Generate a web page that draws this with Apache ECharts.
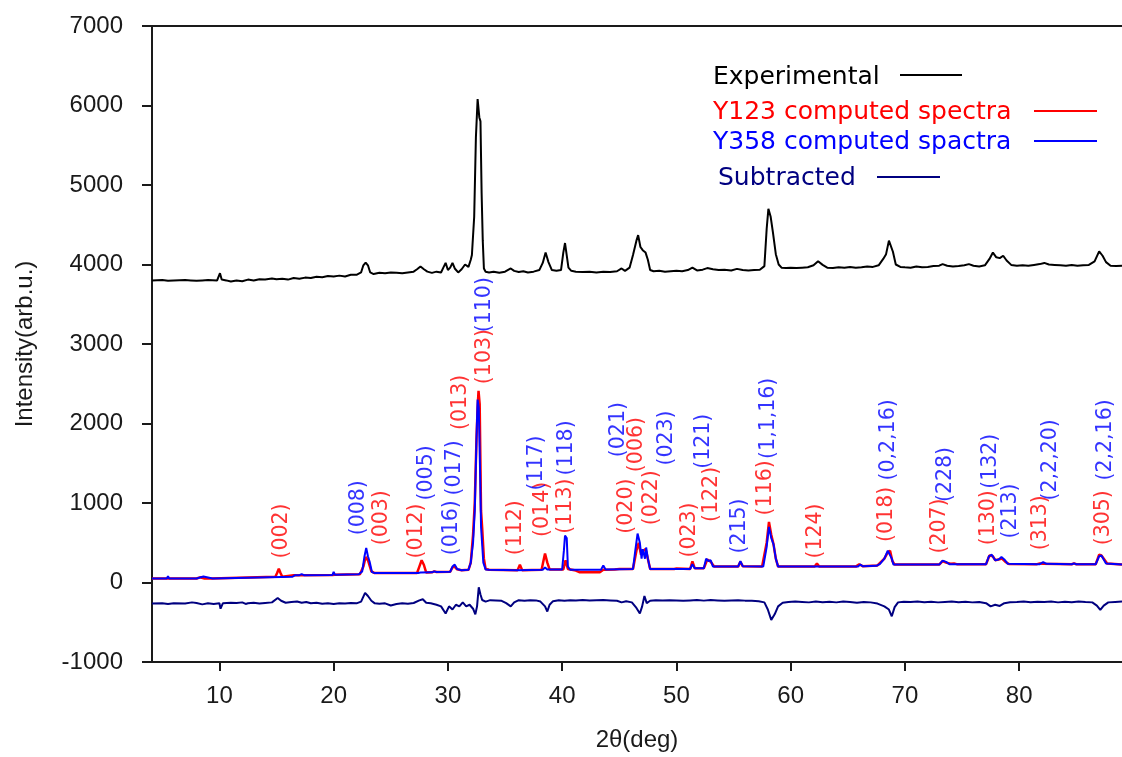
<!DOCTYPE html>
<html>
<head>
<meta charset="utf-8">
<script src="https://cdn.jsdelivr.net/npm/echarts@6/dist/echarts.min.js"></script>
<style>html,body{margin:0;padding:0;background:#fff}#c{width:1122px;height:757px}</style>
</head>
<body>
<div id="c"></div>
<script>
// ---- data ----
const xTicks = [10, 20, 30, 40, 50, 60, 70, 80];
const expData = [[4.1,3800],[5,3805],[5.5,3795],[6,3800],[7,3805],[7.5,3800],[8,3795],[8.5,3800],[9,3805],[9.8,3800],[10.05,3890],[10.2,3810],[10.6,3800],[11,3785],[11.5,3800],[12,3790],[12.5,3810],[13,3800],[13.5,3815],[14,3810],[14.6,3825],[15,3815],[15.5,3820],[16,3810],[16.5,3830],[17,3820],[17.5,3835],[18,3830],[18.5,3845],[19,3840],[19.5,3855],[20,3850],[20.5,3860],[21,3850],[21.5,3870],[22,3870],[22.4,3900],[22.6,3990],[22.8,4025],[23.0,3990],[23.2,3900],[23.5,3880],[24,3895],[24.5,3890],[25,3900],[25.5,3895],[26,3890],[26.5,3900],[27,3910],[27.3,3940],[27.6,3975],[27.9,3940],[28.2,3910],[28.6,3895],[29,3910],[29.4,3900],[29.6,3960],[29.8,4020],[30.0,3930],[30.2,3960],[30.4,4020],[30.6,3950],[30.9,3900],[31.2,3940],[31.5,4000],[31.8,3970],[32.0,4060],[32.1,4120],[32.3,4600],[32.45,5600],[32.6,6080],[32.7,6080],[32.75,5850],[32.85,5800],[32.95,4900],[33.05,4300],[33.15,3950],[33.3,3910],[33.6,3900],[34,3910],[34.5,3895],[35,3910],[35.5,3950],[35.8,3920],[36.2,3905],[36.6,3915],[37,3900],[37.5,3910],[38,3930],[38.3,4020],[38.55,4150],[38.8,4030],[39.1,3930],[39.5,3920],[39.9,3930],[40.1,4150],[40.25,4270],[40.4,4250],[40.55,3960],[40.8,3920],[41.2,3910],[41.8,3905],[42.4,3910],[43,3900],[43.6,3910],[44.2,3905],[44.8,3915],[45.2,3950],[45.5,3920],[45.9,3960],[46.2,4120],[46.5,4300],[46.65,4370],[46.85,4220],[47.05,4180],[47.3,4150],[47.5,4060],[47.7,3930],[48,3915],[48.5,3920],[49,3910],[49.5,3915],[50,3920],[50.5,3915],[51,3930],[51.4,3960],[51.8,3925],[52.3,3935],[52.7,3955],[53.2,3940],[53.7,3930],[54.2,3935],[54.8,3925],[55.3,3945],[55.8,3930],[56.3,3925],[56.8,3930],[57.3,3935],[57.7,3980],[57.9,4450],[58.05,4700],[58.25,4600],[58.45,4400],[58.7,4130],[58.95,4000],[59.2,3960],[59.6,3955],[60,3960],[60.5,3955],[61,3960],[61.5,3965],[62,3990],[62.4,4040],[62.8,3995],[63.2,3960],[63.7,3955],[64.2,3965],[64.7,3960],[65.2,3970],[65.7,3960],[66.2,3965],[66.7,3975],[67.2,3970],[67.7,3990],[68.1,4070],[68.35,4130],[68.6,4300],[68.75,4310],[68.95,4160],[69.2,4000],[69.6,3970],[70,3965],[70.5,3960],[71,3975],[71.5,3965],[72,3970],[72.5,3980],[73,3985],[73.3,4005],[73.7,3985],[74.2,3975],[74.7,3980],[75.2,3990],[75.6,4005],[76,3985],[76.5,3975],[77,3990],[77.4,4070],[77.7,4150],[78.0,4090],[78.3,4080],[78.6,4110],[78.9,4050],[79.3,3995],[79.8,3985],[80.3,3990],[80.8,3985],[81.3,3995],[81.8,4005],[82.2,4020],[82.6,4000],[83.1,3995],[83.6,3990],[84.1,3985],[84.6,3995],[85.1,3985],[85.6,3990],[86.1,3995],[86.6,4040],[87.0,4165],[87.3,4110],[87.6,4030],[88,3985],[88.5,3980],[89,3985]];
const y123Data = [[4.1,50],[5.5,50],[5.6,70],[5.7,50],[8.0,50],[8.3,65],[8.7,50],[9.3,50],[9.4,70],[14.9,72],[15.05,120],[15.2,175],[15.35,120],[15.5,72],[16.5,90],[17,92],[19.9,95],[20.0,120],[20.1,98],[22.3,105],[22.6,200],[22.8,320],[23.0,280],[23.15,255],[23.3,140],[23.6,118],[27.3,120],[27.5,200],[27.7,280],[27.9,220],[28.1,125],[28.6,128],[28.8,140],[29,132],[30.2,135],[30.4,190],[30.6,200],[30.8,165],[31.2,155],[31.8,160],[32.0,250],[32.2,600],[32.35,1000],[32.5,1800],[32.6,2200],[32.68,2410],[32.78,2245],[32.9,900],[33.0,680],[33.15,300],[33.3,170],[33.6,160],[36.1,155],[36.3,225],[36.5,155],[38.2,160],[38.4,300],[38.5,364],[38.7,250],[38.9,165],[40.1,165],[40.3,280],[40.5,170],[41.2,150],[41.5,130],[43.3,130],[43.6,160],[44.6,165],[45.0,170],[46.2,170],[46.5,400],[46.7,500],[46.9,350],[47.1,400],[47.3,420],[47.5,300],[47.7,170],[49.8,170],[50.0,175],[51.2,170],[51.4,267],[51.6,180],[52.4,180],[52.7,290],[53.0,260],[53.3,200],[55.4,200],[55.6,260],[55.8,205],[57.5,200],[57.9,500],[58.1,761],[58.3,600],[58.5,480],[58.7,300],[58.9,200],[62.1,200],[62.3,238],[62.5,200],[65.7,200],[66.0,230],[66.3,205],[67.6,215],[68.2,300],[68.5,380],[68.7,400],[68.9,270],[69.1,225],[73.0,225],[73.3,270],[73.6,250],[74.0,235],[74.3,240],[74.6,228],[77.1,230],[77.4,340],[77.7,330],[77.9,280],[78.2,290],[78.5,300],[78.8,260],[79.1,232],[81.5,228],[81.8,240],[82.1,235],[84.6,230],[84.8,240],[85.0,230],[86.7,230],[87.0,350],[87.2,340],[87.5,280],[87.7,240],[89,225]];
const y358Data = [[4.1,50],[5.4,50],[5.5,80],[5.6,50],[8.0,50],[8.1,75],[8.6,75],[8.7,50],[9.4,50],[9.5,70],[16.4,72],[16.6,90],[17.0,92],[17.2,105],[17.4,92],[19.9,95],[20.0,135],[20.1,98],[22.2,105],[22.5,140],[22.7,330],[22.85,435],[23.0,330],[23.15,260],[23.35,130],[23.6,118],[27.4,120],[27.6,125],[28.6,128],[28.8,140],[29,132],[30.2,135],[30.4,200],[30.6,225],[30.8,170],[31.2,155],[31.8,160],[32.0,250],[32.2,500],[32.35,900],[32.5,1800],[32.6,2300],[32.7,2200],[32.8,1500],[32.9,700],[33.1,250],[33.3,165],[33.6,160],[36,155],[38.3,160],[38.5,190],[38.7,165],[40.0,165],[40.15,400],[40.25,590],[40.4,560],[40.5,200],[40.7,160],[43.4,160],[43.6,215],[43.8,165],[46.2,170],[46.4,400],[46.6,615],[46.8,500],[46.95,300],[47.05,420],[47.15,430],[47.25,300],[47.35,440],[47.5,300],[47.7,170],[51.2,170],[51.4,230],[51.6,180],[52.4,180],[52.6,300],[52.8,270],[53.0,280],[53.2,200],[55.4,200],[55.6,270],[55.8,205],[57.6,200],[57.9,450],[58.1,700],[58.3,560],[58.5,480],[58.7,300],[58.9,200],[62,200],[65.9,200],[66.1,225],[66.3,205],[67.5,210],[67.8,230],[68.2,300],[68.5,400],[68.65,420],[68.85,300],[69,225],[73.0,225],[73.3,275],[73.6,260],[73.9,230],[77.1,230],[77.35,330],[77.6,350],[77.9,280],[78.2,290],[78.45,320],[78.7,290],[79,235],[81.8,230],[82.1,255],[82.4,235],[84.6,230],[84.8,240],[85,230],[86.7,230],[87.0,330],[87.2,340],[87.4,290],[87.6,240],[89,225]];
const subData = [[4.1,-265],[5,-262],[5.5,-270],[6,-262],[7,-265],[7.6,-250],[8,-258],[8.5,-275],[9,-262],[9.5,-270],[10,-262],[10.1,-330],[10.3,-262],[11,-255],[11.5,-258],[12,-250],[12.3,-270],[12.5,-262],[13,-255],[13.5,-265],[14,-258],[14.6,-250],[15.1,-195],[15.4,-230],[15.8,-255],[16.3,-245],[16.8,-240],[17.2,-255],[17.6,-245],[18,-262],[18.5,-255],[19,-268],[19.5,-262],[20,-270],[20.5,-262],[21,-265],[21.5,-258],[22,-262],[22.4,-240],[22.75,-130],[23.0,-170],[23.3,-230],[23.6,-262],[24,-268],[24.5,-262],[25,-290],[25.5,-270],[26,-262],[26.5,-268],[27,-258],[27.5,-225],[27.8,-210],[28.1,-255],[28.5,-262],[29,-280],[29.4,-300],[29.8,-390],[30.1,-300],[30.4,-340],[30.7,-280],[31,-300],[31.3,-250],[31.6,-300],[31.9,-280],[32.2,-330],[32.4,-400],[32.55,-300],[32.7,-60],[32.85,-150],[33.0,-220],[33.3,-240],[33.7,-222],[34.2,-225],[34.7,-230],[35.1,-260],[35.5,-300],[35.8,-250],[36.2,-222],[36.7,-230],[37.2,-222],[37.7,-225],[38.1,-240],[38.5,-300],[38.7,-365],[38.9,-280],[39.2,-235],[39.7,-222],[40.2,-230],[40.7,-222],[41.2,-225],[41.8,-220],[42.4,-225],[43,-222],[43.6,-220],[44.2,-225],[44.8,-230],[45.2,-250],[45.6,-235],[46.1,-250],[46.5,-320],[46.8,-390],[47.0,-300],[47.2,-170],[47.4,-260],[47.7,-230],[48.2,-222],[48.8,-225],[49.4,-222],[50,-225],[50.6,-230],[51.2,-225],[51.8,-220],[52.4,-228],[53,-220],[53.6,-225],[54.2,-230],[54.8,-225],[55.4,-222],[56,-228],[56.6,-230],[57.2,-235],[57.7,-250],[58.0,-340],[58.3,-470],[58.6,-400],[58.9,-300],[59.3,-255],[59.8,-245],[60.4,-240],[61,-245],[61.6,-250],[62.2,-240],[62.8,-248],[63.4,-242],[64,-250],[64.6,-240],[65.2,-245],[65.8,-255],[66.4,-245],[67,-250],[67.6,-265],[68.2,-300],[68.6,-340],[68.85,-425],[69.1,-310],[69.4,-250],[69.9,-242],[70.5,-245],[71.1,-240],[71.7,-248],[72.3,-242],[72.9,-250],[73.5,-245],[74.1,-240],[74.7,-248],[75.3,-242],[75.9,-250],[76.5,-245],[77.1,-260],[77.5,-300],[77.9,-280],[78.3,-295],[78.7,-260],[79.2,-248],[79.8,-245],[80.4,-240],[81,-248],[81.6,-242],[82.2,-245],[82.8,-240],[83.4,-250],[84,-242],[84.6,-248],[85.2,-240],[85.8,-246],[86.4,-250],[86.8,-290],[87.1,-345],[87.4,-290],[87.8,-250],[88.4,-245],[89,-240]];
// peak index labels: [text, 2theta, intensity at label foot]
const redLabels = [['(002)',15.46,301],['(003)',24.22,468],['(012)',27.29,301],['(013)',31.08,1919],['(103)',33.26,2495],['(112)',35.89,342],['(014)',38.32,573],['(113)',40.27,614],['(020)',45.61,614],['(006)',46.55,1388],['(022)',47.86,719],['(023)',51.16,313],['(122)',53.12,761],['(116)',57.78,844],['(124)',62.22,301],['(018)',68.44,510],['(207)',73.05,364],['(130)',77.34,468],['(313)',81.87,405],['(305)',87.41,468]];
const blueLabels = [['(008)',22.17,593],['(005)',28.16,1032],['(016)',30.35,342],['(017)',30.55,1095],['(110)',33.26,3148],['(117)',37.73,1157],['(118)',40.42,1346],['(021)',44.94,1576],['(023)',49.18,1471],['(121)',52.38,1430],['(215)',55.53,364],['(1,1,16)',58.07,1555],['(0,2,16)',68.58,1283],['(228)',73.55,1012],['(132)',77.49,1179],['(213)',79.24,552],['(2,2,20)',82.74,1032],['(2,2,16)',87.56,1283]];
const legendItems = ['Experimental', 'Y123 computed spectra', 'Y358 computed spactra', 'Subtracted'];

// ---- chart ----
const RED = '#ff0000', BLUE = '#0000ff', NAVY = '#000080', BLACK = '#000000';
const AX = '#1a1a1a';
const chart = echarts.init(document.getElementById('c'), null, {renderer: 'canvas'});

function labelSeries(list, color) {
  return {
    type: 'scatter', symbolSize: 0, silent: true, z: 5,
    data: list.map(d => ({name: d[0], value: [d[1], d[2]]})),
    label: {
      show: true, position: 'inside', rotate: 90, align: 'left', verticalAlign: 'middle',
      formatter: p => p.name, color: color,
      fontFamily: '"DejaVu Sans"', fontSize: 20.5
    }
  };
}
function lineSeries(name, data, color, z, w) {
  return {name, type: 'line', data, showSymbol: false, symbol: 'none', z,
    lineStyle: {color, width: w}, itemStyle: {color}, silent: true};
}

const legendY = [77, 112, 142, 178];
const legendTextX = [713, 713, 713, 718];
const legendLine = [[900, 962, 75], [1034, 1097, 111], [1034, 1097, 141], [877, 940, 177]];
const legendColors = [BLACK, RED, BLUE, NAVY];
const graphic = [];
legendItems.forEach((t, i) => {
  graphic.push({type: 'text', x: legendTextX[i], y: legendY[i], silent: true,
    style: {text: t, fill: legendColors[i], font: '25px "DejaVu Sans"', verticalAlign: 'middle', align: 'left'}});
  graphic.push({type: 'line', silent: true,
    shape: {x1: legendLine[i][0], y1: legendLine[i][2], x2: legendLine[i][1], y2: legendLine[i][2]},
    style: {stroke: legendColors[i], lineWidth: 2}});
});

const tickFont = {color: AX, fontFamily: '"Liberation Sans", Arial', fontSize: 24};
chart.setOption({
  animation: false,
  backgroundColor: '#ffffff',
  grid: {left: 152, right: 0, top: 26, bottom: 93, containLabel: false},
  xAxis: [{
    type: 'value', min: 4.1, max: 89,
    name: '2θ(deg)', nameLocation: 'middle', nameGap: 66,
    nameTextStyle: tickFont,
    axisLine: {show: true, onZero: false, lineStyle: {color: AX, width: 2}},
    axisTick: {show: true, length: 9, inside: false, customValues: xTicks, lineStyle: {color: AX, width: 2}},
    axisLabel: Object.assign({customValues: xTicks, margin: 22, formatter: v => String(v)}, tickFont),
    splitLine: {show: false}
  }, {
    type: 'value', min: 4.1, max: 89, position: 'top',
    axisLine: {show: true, onZero: false, lineStyle: {color: AX, width: 2}},
    axisTick: {show: false}, axisLabel: {show: false}, splitLine: {show: false}
  }],
  yAxis: {
    type: 'value', min: -1000, max: 7000, interval: 1000,
    name: 'Intensity(arb.u.)', nameLocation: 'middle', nameGap: 115,
    nameTextStyle: tickFont,
    axisLine: {show: true, onZero: false, lineStyle: {color: AX, width: 2}},
    axisTick: {show: true, length: 10, inside: false, lineStyle: {color: AX, width: 2}},
    axisLabel: Object.assign({margin: 29, formatter: v => String(v)}, tickFont),
    splitLine: {show: false}
  },
  series: [
    lineSeries(legendItems[1], y123Data, RED, 2, 2.5),
    lineSeries(legendItems[2], y358Data, BLUE, 3, 2),
    lineSeries(legendItems[3], subData, NAVY, 3, 2),
    lineSeries(legendItems[0], expData, BLACK, 3, 2),
    labelSeries(redLabels, RED),
    labelSeries(blueLabels, BLUE)
  ],
  graphic: graphic
});
</script>
</body>
</html>
